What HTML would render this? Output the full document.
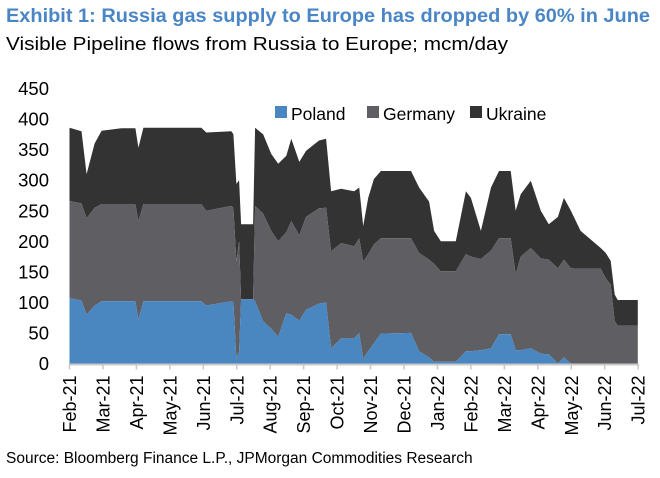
<!DOCTYPE html>
<html><head><meta charset="utf-8"><style>
body{margin:0;background:#fff;width:660px;height:473px;overflow:hidden;font-family:"Liberation Sans",Arial,sans-serif}
</style></head><body>
<svg id="chart" width="660" height="473" xmlns="http://www.w3.org/2000/svg" font-family="Liberation Sans, Arial, sans-serif">
<text x="6" y="22" font-size="19.5" font-weight="bold" fill="#4a86c5" textLength="644" lengthAdjust="spacingAndGlyphs">Exhibit 1: Russia gas supply to Europe has dropped by 60% in June</text>
<text x="6" y="50" font-size="18" fill="#000" textLength="502" lengthAdjust="spacingAndGlyphs">Visible Pipeline flows from Russia to Europe; mcm/day</text>
<g id="yaxis"></g>
<g id="areas"></g>
<g id="xaxis"></g>
<g>
<g><rect x="275" y="106" width="12" height="12" fill="#4a86c0"/><text x="291" y="120" font-size="17.5">Poland</text></g>
<g><rect x="367" y="106" width="12" height="12" fill="#5f5f63"/><text x="383" y="120" font-size="17.5">Germany</text></g>
<g><rect x="470" y="106" width="12" height="12" fill="#333"/><text x="486" y="120" font-size="17.5">Ukraine</text></g>
</g>
<text x="6" y="463" font-size="15.5">Source: Bloomberg Finance L.P., JPMorgan Commodities Research</text>
</svg>
<script>
const months=["Feb-21","Mar-21","Apr-21","May-21","Jun-21","Jul-21","Aug-21","Sep-21","Oct-21","Nov-21","Dec-21","Jan-22","Feb-22","Mar-22","Apr-22","May-22","Jun-22","Jul-22"];
const yTicks=[0,50,100,150,200,250,300,350,400,450];
const t=[0,.36,.51,.75,.96,1.55,1.97,2.06,2.21,3.94,4.09,4.84,4.9,4.99,5.07,5.13,5.49,5.55,5.79,6.03,6.24,6.48,6.63,6.87,7.07,7.46,7.67,7.82,8.12,8.51,8.66,8.78,8.93,9.1,9.31,10.21,10.45,10.75,10.9,11.1,11.55,11.85,12,12.3,12.6,12.84,13.19,13.34,13.49,13.79,14.09,14.33,14.6,14.78,14.99,15.28,15.88,16.03,16.18,16.3,16.39,16.99];
const total=[386,380,310,360,381,385,385,353,386,386,378,380,375,294,300,228,228,386,375,343,327,340,368,330,348,365,368,282,286,282,288,225,271,302,315,315,288,265,217,200,200,282,271,217,288,315,315,250,277,299,250,228,240,271,250,217,189,181,168,113,104,104];
const cumGray=[266,262,238,255,261,261,261,233,261,261,250,258,255,167,200,105,105,258,245,217,200,215,233,210,240,254,255,184,197,192,205,167,179,195,205,205,181,170,163,151,151,179,175,171,185,205,205,146,175,189,172,170,156,170,156,155,155,140,129,69,62,62];
const poland=[107,103,80,95,102,102,102,72,102,102,95,102,100,8,20,105,105,102,69,57,44,82,80,70,88,98,100,25,41,41,50,8,20,33,49,50,20,10,3,3,3,20,20,22,25,48,48,22,22,25,16,15,0,10,0,0,0,0,0,0,0,0];
const germany=cumGray.map((g,i)=>g-poland[i]);
const ukraine=total.map((v,i)=>v-cumGray[i]);
const X0=69.5,DX=33.45,Y0=363.5,SY=0.611;
const xs=v=>X0+v*DX, ys=v=>Y0-v*SY;
const NS="http://www.w3.org/2000/svg";
function mk(tag,attrs,parent){const e=document.createElementNS(NS,tag);for(const k in attrs)e.setAttribute(k,attrs[k]);parent.appendChild(e);return e;}
const ya=document.getElementById('yaxis');
yTicks.forEach(v=>{const tx=mk('text',{x:49,y:ys(v)+6.5,'font-size':18.5,'text-anchor':'end'},ya);tx.textContent=v;

});
const ar=document.getElementById('areas');
function area(lo,hi,fill,name){let d='';for(let i=0;i<t.length;i++)d+=(i?'L':'M')+xs(t[i]).toFixed(1)+','+ys(hi[i]).toFixed(1);
for(let i=t.length-1;i>=0;i--)d+='L'+xs(t[i]).toFixed(1)+','+ys(lo[i]).toFixed(1);
const p=mk('path',{d:d+'Z',fill:fill},ar);

}
const zero=t.map(()=>0);
const s1=poland, s2=poland.map((v,i)=>v+germany[i]), s3=s2.map((v,i)=>v+ukraine[i]);
area(s2,s3,'#333333','series-ukraine');
area(s1,s2,'#5f5f63','series-germany');
area(zero,s1,'#4a86c0','series-poland');
const xa=document.getElementById('xaxis');
mk('line',{x1:X0,x2:xs(17)+1,y1:Y0+1,y2:Y0+1,stroke:'#c8c8c8','stroke-width':2},xa);
months.forEach((m,i)=>{const x=xs(i);
mk('line',{x1:x,x2:x,y1:Y0,y2:Y0+6,stroke:'#c8c8c8','stroke-width':1.5},xa);
const tx=mk('text',{x:0,y:0,'font-size':18,'text-anchor':'end',transform:`translate(${x+6.5},${Y0+12}) rotate(-90)`},xa);
tx.textContent=m;

});
</script>
</body></html>
